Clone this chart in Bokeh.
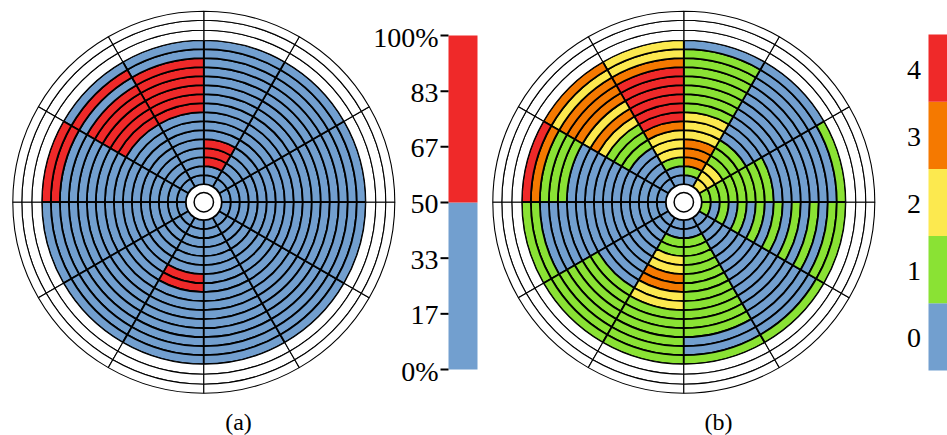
import numpy as np
from bokeh.plotting import figure
from bokeh.models import Range1d, ColumnDataSource
from bokeh.embed import file_html
from bokeh.resources import INLINE
from bokeh.core.properties import value

# ---------------- data (ring 1 = innermost ... ring 16 = outermost) ----------------
# chart (a): 0 = below 50 % (blue), 1 = above 50 % (red); sectors counter-clockwise from east
a_s00 = [0]*16
a_s01 = [0]*16
a_s02 = [0,0,1,1,1,0,0,0,0,0,0,0,0,0,0,0]
a_s03 = [0,0,0,0,0,0,0,0,1,1,1,1,1,1,0,0]
a_s04 = [0,0,0,0,0,0,0,0,1,1,1,1,1,0,1,0]
a_s05 = [0,0,0,0,0,0,0,0,0,0,0,0,0,0,1,1]
a_s06 = [0]*16
a_s07 = [0]*16
a_s08 = [0,0,0,0,0,0,1,1,0,0,0,0,0,0,0,0]
a_s09 = [0]*16
a_s10 = [0]*16
a_s11 = [0]*16

# chart (b): level 0..4
b_s00 = [1,1,1,1,1,1,1,1,0,0,0,0,0,0,0,1]
b_s01 = [2,2,2,1,1,1,0,0,0,0,0,0,0,0,0,0]
b_s02 = [0,1,3,3,3,2,2,2,1,1,1,1,1,1,1,0]
b_s03 = [0,0,1,2,2,2,3,4,4,4,4,4,4,3,2,2]
b_s04 = [0,0,0,0,0,1,1,1,2,3,2,3,3,3,2,3]
b_s05 = [0,0,0,0,0,0,0,0,0,0,0,1,1,1,3,4]
b_s06 = [0,0,0,0,0,0,0,0,0,0,0,0,0,0,1,1]
b_s07 = [0,0,0,0,0,0,0,0,0,1,1,1,1,1,1,1]
b_s08 = [0,0,1,1,2,2,3,3,2,2,1,1,1,1,1,1]
b_s09 = [0,0,1,1,1,1,1,1,1,1,1,1,1,0,0,1]
b_s10 = [0,0,0,0,0,0,0,0,0,0,0,0,0,0,0,1]
b_s11 = [1,0,1,0,1,0,1,0,1,0,1,0,1,0,1,1]

a_sectors = [a_s00, a_s01, a_s02, a_s03, a_s04, a_s05, a_s06, a_s07, a_s08, a_s09, a_s10, a_s11]
b_sectors = [b_s00, b_s01, b_s02, b_s03, b_s04, b_s05, b_s06, b_s07, b_s08, b_s09, b_s10, b_s11]

a_colors = ["#729fcf", "#ef2929"]
b_colors = ["#729fcf", "#8ae234", "#fce94f", "#f57900", "#ef2929"]
a_tick_labels = ["0%", "17", "33", "50", "67", "83", "100%"]
b_tick_labels = ["0", "1", "2", "3", "4"]
captions = ["(a)", "(b)"]

# ---------------- layout ----------------
W, H = 947, 435
SH = 435  # data y = SH - screen_y

p = figure(width=W, height=H, x_range=Range1d(0, W), y_range=Range1d(0, H),
           output_backend="svg", toolbar_location=None, x_axis_type=None, y_axis_type=None,
           min_border=0)
p.outline_line_color = None
p.background_fill_color = "white"

R_HOLE = 18.0
R_FILL = 162.0
N_RING = 16
R_OUT = [162.0, 172.0, 182.0, 191.0]
R_INNER_CIRCLE = 9.7
FONT = value("Liberation Serif")

centers = [(203.3, SH - 201.7), (683.3, SH - 201.7)]


def draw_bullseye(cx, cy, sectors, palette):
    dr = (R_FILL - R_HOLE) / N_RING
    d = dict(x=[], y=[], ir=[], orr=[], sa=[], ea=[], c=[])
    for s, rings in enumerate(sectors):
        sa = np.deg2rad(30 * s)
        ea = np.deg2rad(30 * (s + 1))
        for k, v in enumerate(rings):
            d["x"].append(cx); d["y"].append(cy)
            d["ir"].append(R_HOLE + k * dr); d["orr"].append(R_HOLE + (k + 1) * dr)
            d["sa"].append(sa); d["ea"].append(ea)
            d["c"].append(palette[v])
    p.annular_wedge(x="x", y="y", inner_radius="ir", outer_radius="orr",
                    start_angle="sa", end_angle="ea", fill_color="c",
                    line_color="black", line_width=1.8, source=ColumnDataSource(d))
    e = dict(x=[], y=[], ir=[], orr=[], sa=[], ea=[])
    for s in range(12):
        for j in range(len(R_OUT) - 1):
            e["x"].append(cx); e["y"].append(cy)
            e["ir"].append(R_OUT[j]); e["orr"].append(R_OUT[j + 1])
            e["sa"].append(np.deg2rad(30 * s)); e["ea"].append(np.deg2rad(30 * (s + 1)))
    p.annular_wedge(x="x", y="y", inner_radius="ir", outer_radius="orr",
                    start_angle="sa", end_angle="ea", fill_color="white",
                    line_color="black", line_width=1.1, source=ColumnDataSource(e))
    p.circle(x=[cx], y=[cy], radius=R_INNER_CIRCLE, fill_color="white",
             line_color="black", line_width=1.5)


draw_bullseye(*centers[0], a_sectors, a_colors)
draw_bullseye(*centers[1], b_sectors, b_colors)

# ---------------- colour bar (a) ----------------
cb_a_left, cb_a_right = 448, 477
cb_top, cb_bot = SH - 35, SH - 369
n_a = len(a_tick_labels) - 1
ys_a = [cb_bot + i * (cb_top - cb_bot) / n_a for i in range(n_a + 1)]
mid = ys_a[n_a // 2]
p.quad(left=[cb_a_left, cb_a_left], right=[cb_a_right, cb_a_right],
       bottom=[cb_bot, mid], top=[mid, cb_top], fill_color=a_colors, line_color=None)
p.segment(x0=[440] * len(ys_a), x1=[448] * len(ys_a), y0=ys_a, y1=ys_a,
          line_color="black", line_width=2)
p.text(x=[438] * len(ys_a), y=[v - 1.5 for v in ys_a], text=a_tick_labels, text_align="right",
       text_baseline="middle", text_font=FONT, text_font_size="28px", text_color="black")

# ---------------- colour bar (b) ----------------
cb_b_left, cb_b_right = 928, 960
n_b = len(b_tick_labels)
edges_b = [cb_bot - 1 + i * (cb_top + 1 - (cb_bot - 1)) / n_b for i in range(n_b + 1)]
p.quad(left=[cb_b_left] * n_b, right=[cb_b_right] * n_b, bottom=edges_b[:-1], top=edges_b[1:],
       fill_color=b_colors, line_color=None)
p.text(x=[913.5] * n_b, y=[(edges_b[i] + edges_b[i + 1]) / 2 - 1.5 for i in range(n_b)],
       text=b_tick_labels, text_align="center", text_baseline="middle",
       text_font=FONT, text_font_size="28px", text_color="black")

# ---------------- captions ----------------
p.text(x=[238, 718], y=[SH - 421] * 2, text=captions, text_align="center",
       text_baseline="middle", text_font=FONT, text_font_size="24px", text_color="black")

open("out.html", "w").write(file_html(p, INLINE))
